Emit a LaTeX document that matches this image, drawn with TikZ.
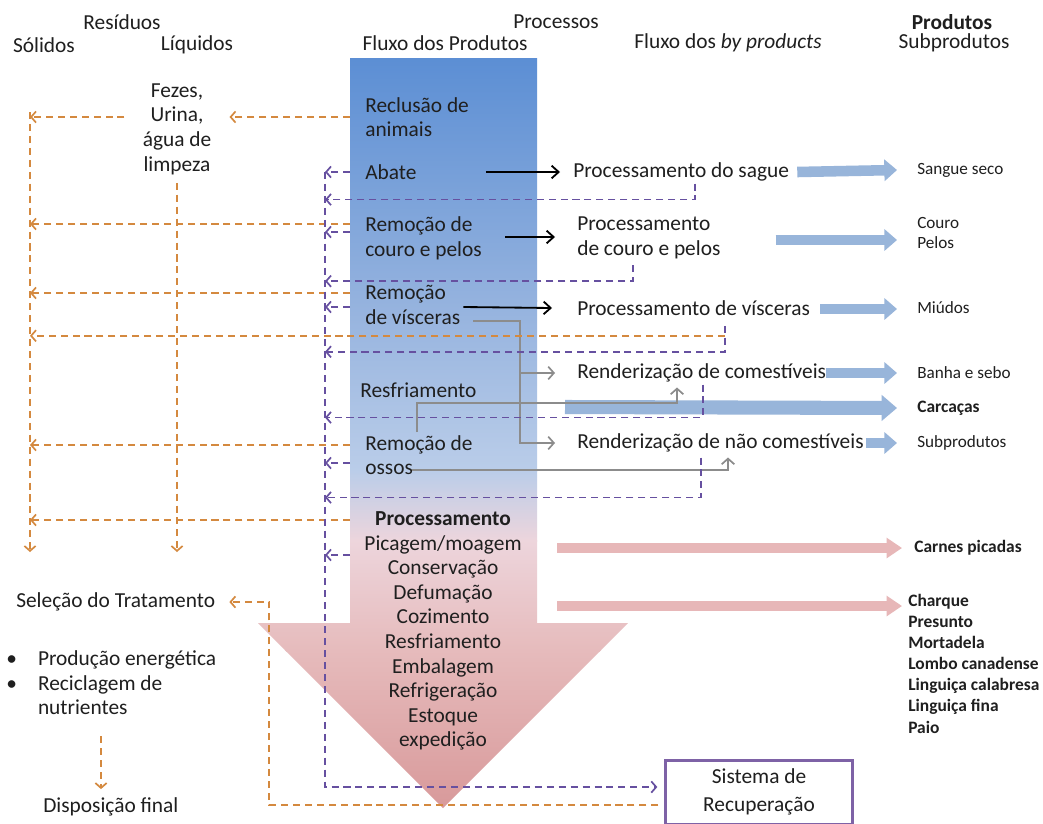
\documentclass[tikz,border=0pt]{standalone}
\usepackage{fontspec}
\setmainfont{Carlito}
\usetikzlibrary{positioning,arrows.meta,calc}
\definecolor{flowtop}{HTML}{5B8ED4}
\definecolor{flowmid}{HTML}{94B2DE}
\definecolor{flowlow}{HTML}{BACDE9}
\definecolor{flowpale}{HTML}{EDD5DC}
\definecolor{flowpink}{HTML}{E6BBBC}
\definecolor{flowdeep}{HTML}{D8999A}
\definecolor{resorange}{HTML}{D4893F}
\definecolor{recpurple}{HTML}{6650A0}
\definecolor{boxpurple}{HTML}{7E62A6}
\definecolor{subblue}{HTML}{98B5DA}
\definecolor{subpink}{HTML}{E7B7B8}
\definecolor{linegray}{HTML}{8C8C8C}

\begin{document}
\begin{tikzpicture}[x=0.025cm,y=-0.025cm,
  every node/.style={inner sep=0pt,text=black!88,font=\fontsize{15.2}{17.5}\selectfont},
  prod/.style={anchor=west,font=\fontsize{12.2}{14.5}\selectfont},
  prodb/.style={prod,font=\fontsize{12.4}{15}\selectfont\bfseries},
  oarr/.style={draw=resorange,line width=1.2pt,dash pattern=on 5pt off 3.5pt,-{Straight Barb[length=3.5pt,width=8pt]}},
  parr/.style={draw=recpurple,line width=1.2pt,dash pattern=on 5pt off 3.5pt,-{Straight Barb[length=3.5pt,width=8pt]}},
  gry/.style={draw=linegray,line width=1.2pt,-{Straight Barb[length=4pt,width=9pt]}},
  blk/.style={draw=black,line width=1.3pt,-{Straight Barb[length=5pt,width=9pt]}},
  fatb/.style={draw=subblue,line width=7.5pt,-{Triangle[length=9pt,width=15pt]}},
  fatp/.style={draw=subpink,line width=7pt,-{Triangle[length=11pt,width=14pt]}}]
\useasboundingbox[fill=white] (0,0) rectangle (1043,823);

\coordinate (sTL) at (350,58);
\coordinate (sTR) at (537,58);
\coordinate (sBR) at (537,623);
\coordinate (hR) at (628,623);
\coordinate (tip) at (443,808);
\coordinate (hL) at (258,623);
\coordinate (sBL) at (350,623);
\begin{scope}
  \clip (sTL) -- (sTR) -- (sBR) -- (hR) -- (tip) -- (hL) -- (sBL) -- cycle;
  \shade[top color=flowtop,bottom color=flowmid] (250,55) rectangle (640,301);
  \shade[top color=flowmid,bottom color=flowlow] (250,300) rectangle (640,471);
  \shade[top color=flowlow,bottom color=flowpale] (250,470) rectangle (640,541);
  \shade[top color=flowpale,bottom color=flowpink] (250,540) rectangle (640,651);
  \shade[top color=flowpink,bottom color=flowdeep] (250,650) rectangle (640,810);
\end{scope}

\node (hres) at (122,22) {Resíduos};
\node (hsol) at (44,45) {Sólidos};
\node (hliq) at (197,45) {Líquidos};
\node (hproc) at (556,22) {Processos};
\node (hfp) at (445,43) {Fluxo dos Produtos};
\node (hfb) at (728,43) {Fluxo dos \textit{by products}};
\node (hprod) at (952,22) {\textbf{Produtos}};
\node (hsub) at (954,43) {Subprodutos};

\node[anchor=west,align=left] (recl) at (365,117) {Reclusão de\\animais};
\node[anchor=west] (abate) at (365,172) {Abate};
\node[anchor=west,align=left] (couro) at (365,238) {Remoção de\\couro e pelos};
\node[anchor=west,align=left] (visc) at (365,305) {Remoção\\de vísceras};
\node[anchor=west] (resf) at (360,390) {Resfriamento};
\node[anchor=west,align=left] (ossos) at (365,455) {Remoção de\\ossos};
\node[align=center] (proc) at (443,631) {\textbf{Processamento}\\Picagem/moagem\\Conservação\\Defumação\\Cozimento\\Resfriamento\\Embalagem\\Refrigeração\\Estoque\\expedição};

\node[align=center] (fez) at (177,129) {Fezes,\\Urina,\\água de\\limpeza};
\node[anchor=west] (sel) at (16,602) {Seleção do Tratamento};
\node[anchor=north west] (bul) at (6,648) {\begin{tabular}{@{}l@{\hspace{15pt}}l@{}}
  \textbullet & Produção energética\\
  \textbullet & Reciclagem de\\
  & nutrientes
\end{tabular}};
\node[anchor=west] (disp) at (43,807) {Disposição final};

\node[anchor=west] (sague) at (573,172) {Processamento do sague};
\node[anchor=west,align=left] (pcouro) at (577,238) {Processamento\\de couro e pelos};
\node[anchor=west] (pvisc) at (577,308) {Processamento de vísceras};
\node[anchor=west] (rcom) at (577,373) {Renderização de comestíveis};
\node[anchor=west] (rnao) at (577,443) {Renderização de não comestíveis};

\node[prod] (sangue) at (917,170) {Sangue seco};
\node[prod,align=left] (coupel) at (917,233) {Couro\\Pelos};
\node[prod] (miud) at (917,308) {Miúdos};
\node[prod] (banha) at (917,373) {Banha e sebo};
\node[prodb] (carc) at (917,408) {Carcaças};
\node[prod] (subp) at (917,443) {Subprodutos};
\node[prodb] (carnes) at (914,548) {Carnes picadas};
\node[prodb,anchor=north west,align=left] (embut) at (908,594) {Charque\\Presunto\\Mortadela\\Lombo canadense\\Linguiça calabresa\\Linguiça fina\\Paio};

\node[draw=boxpurple,line width=1.6pt,minimum width=133pt,minimum height=45pt,inner sep=2pt,align=center,font=\fontsize{15.2}{20}\selectfont] (sis) at (759,792) {Sistema de\\Recuperação};

\coordinate (carcS) at (565,407);
\coordinate (pk1) at (557,548);
\coordinate (pk2) at (557,606);
\draw[fatb] ($(sague.east)+(8,0)$) -- ($(sangue.west)+(-20,0)$);
\draw[fatb] ($(pcouro.east)+(55,2)$) -- ($(coupel.west)+(-20,7)$);
\draw[fatb] ($(pvisc.east)+(10,1)$) -- ($(miud.west)+(-20,1)$);
\draw[fatb] (rcom.east) -- ($(banha.west)+(-20,0)$);
\draw[fatb,line width=10pt,-{Triangle[length=11pt,width=18pt]}] (carcS) -- ($(carc.west)+(-20,0)$);
\draw[fatb] ($(rnao.east)+(2,0)$) -- ($(subp.west)+(-20,0)$);
\draw[fatp] (pk1) -- ($(carnes.west)+(-12,0)$);
\draw[fatp] (pk2) -- ($(embut.north west)+(-6,12)$);

\draw[blk] ($(abate.east)+(69,0)$) -- ($(sague.west)+(-13,0)$);
\draw[blk] ($(couro.east)+(23,-1)$) -- ($(pcouro.west)+(-22,-1)$);
\draw[blk] ($(visc.east)+(3,2)$) -- ($(pvisc.west)+(-25,0)$);

\coordinate (gx) at (520,0);
\draw[gry] ($(visc.east)+(13,16)$) -| (gx |- rnao.west) -- ($(rnao.west)+(-22,0)$);
\draw[gry] (gx |- rcom.west) -- ($(rcom.west)+(-22,0)$);
\draw[gry] ($(resf.west)+(57,42)$) -- ++(0,-29) -| ($(rcom.south west)+(100,5)$);
\draw[gry] ($(ossos.west)+(47,15)$) -| ($(rnao.south west)+(151,5)$);

\coordinate (solT) at (30,112);
\coordinate (solB) at (30,552);
\draw[oarr] (solT) -- (solB);
\draw[oarr] ($(fez.south)+(0,8)$) coordinate (q) -- (q |- solB);
\draw[oarr] (sTL |- recl.west) -- ($(recl.west -| fez.east)+(18,0)$);
\draw[oarr] ($(recl.west -| fez.west)+(-18,0)$) -- (recl.west -| solT);
\foreach \n/\dy in {couro/-14,visc/-12,ossos/-10}
  \draw[oarr] ($(\n.west)+(-15,\dy)$) coordinate (q) -- (q -| solT);
\draw[oarr] ($(sBL)+(0,-103)$) coordinate (q) -- (q -| solT);
\draw[oarr] ($(pvisc.south west)+(148,20)$) coordinate (q) -- (q -| solT);
\draw[oarr] ($(sis.west)+(-6,13)$) -| ($(sel.east)+(54,0)$) -- ($(sel.east)+(14,0)$);
\draw[oarr,shorten >=6pt] ($(bul.south west)+(95,14)$) coordinate (q) -- (q |- disp.north);

\coordinate (purT) at (325,172);
\coordinate (purB) at (325,787);
\draw[parr,shorten >=5pt] (purT) |- (sis.west |- purB);
\foreach \n/\dy in {abate/0,couro/-6,visc/2,ossos/8}
  \draw[parr] ($(\n.west)+(-15,\dy)$) coordinate (q) -- (q -| purT);
\draw[parr] ($(sBL)+(0,-68)$) coordinate (q) -- (q -| purT);
\foreach \n/\dx/\dy/\h in {sague/122/2/16,pcouro/56/6/16,pvisc/148/10/26,rcom/126/2/33,rnao/124/5/40}
  \draw[parr] ($(\n.south west)+(\dx,\dy)$) -- ++(0,\h) coordinate (q) -- (q -| purT);
\end{tikzpicture}
\end{document}
